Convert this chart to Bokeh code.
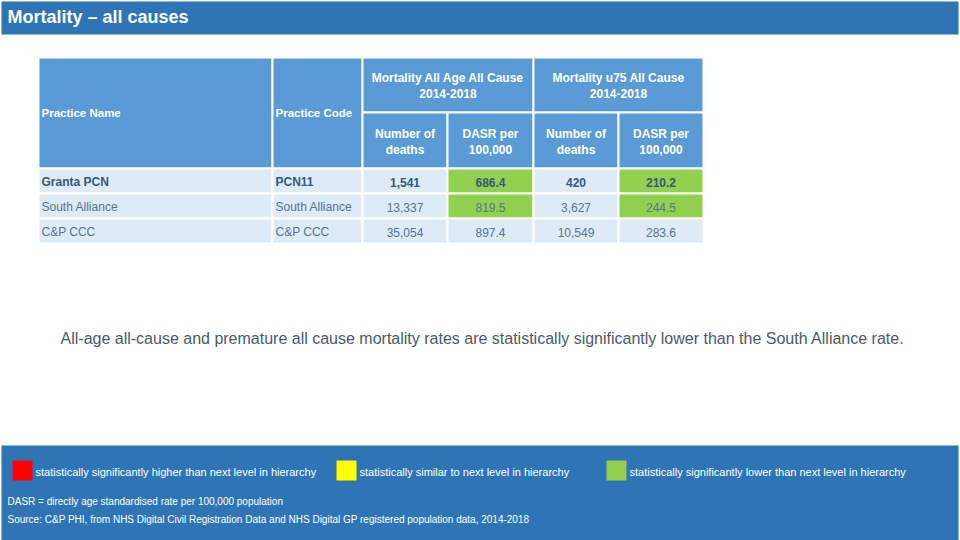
from bokeh.plotting import figure
from bokeh.models import Range1d
from bokeh.core.properties import value
from bokeh.embed import file_html
from bokeh.resources import INLINE

# ---------------- data ----------------
title = "Mortality \u2013 all causes"
practice_names = ["Granta PCN", "South Alliance", "C&P CCC"]
practice_codes = ["PCN11", "South Alliance", "C&P CCC"]
all_age_deaths = [1541, 13337, 35054]
all_age_dasr = [686.4, 819.5, 897.4]
u75_deaths = [420, 3627, 10549]
u75_dasr = [210.2, 244.5, 283.6]
all_age_sig = ["lower", "lower", None]
u75_sig = ["lower", "lower", None]
group_headers = ["Mortality All Age All Cause\n2014-2018", "Mortality u75 All Cause\n2014-2018"]
sub_headers = ["Number of\ndeaths", "DASR per\n100,000"]
summary = ("All-age all-cause and premature all cause mortality rates are statistically "
           "significantly lower than the South Alliance rate.")
legend_labels = ["statistically significantly higher than next level in hierarchy",
                 "statistically similar to next level in hierarchy",
                 "statistically significantly lower than next level in hierarchy"]
legend_keys = ["higher", "similar", "lower"]
note_lines = ["DASR = directly age standardised rate per 100,000 population",
              "Source: C&P PHI, from NHS Digital Civil Registration Data and NHS Digital GP registered population data, 2014-2018"]

# ---------------- styles / layout ----------------
FONT = value("Liberation Sans")
BAR = "#2E75B6"
HEAD = "#5B9BD5"
ROWBG = "#DDEBF7"
SIG = {"higher": "#FF0000", "similar": "#FFFF00", "lower": "#92D050"}
TXT_BOLD = "#36597C"
TXT_REG = "#56738F"

col_edges = [38, 272, 362, 447, 533, 618, 703]
row_edges = [57, 112, 168, 193, 218, 243]

p = figure(width=960, height=540, x_range=Range1d(0, 960), y_range=Range1d(540, 0),
           output_backend="svg", toolbar_location=None, min_border=0)
p.axis.visible = False
p.grid.visible = False
p.outline_line_color = None
p.background_fill_color = "white"
p.border_fill_color = "white"

# top bar and bottom panel
p.quad(left=[1, 1], right=[958, 958], top=[1, 445], bottom=[34, 540],
       fill_color=BAR, line_color=None)
p.text(x=[7], y=[16], text=[title], text_font=FONT, text_font_size="18px",
       text_font_style="bold", text_color="white", text_baseline="middle")

# ---------------- table cells ----------------
L, R, T, B, C = [], [], [], [], []
for c in range(2):
    L.append(col_edges[c]); R.append(col_edges[c + 1]); T.append(row_edges[0]); B.append(row_edges[2]); C.append(HEAD)
for g in range(2):
    L.append(col_edges[2 + 2 * g]); R.append(col_edges[4 + 2 * g]); T.append(row_edges[0]); B.append(row_edges[1]); C.append(HEAD)
for c in range(2, 6):
    L.append(col_edges[c]); R.append(col_edges[c + 1]); T.append(row_edges[1]); B.append(row_edges[2]); C.append(HEAD)
for r in range(len(practice_names)):
    sigs = [None, None, None, all_age_sig[r], None, u75_sig[r]]
    for c in range(6):
        L.append(col_edges[c]); R.append(col_edges[c + 1])
        T.append(row_edges[2 + r]); B.append(row_edges[3 + r])
        C.append(SIG[sigs[c]] if sigs[c] else ROWBG)
p.quad(left=L, right=R, top=T, bottom=B, fill_color=C, line_color="white", line_width=2)

# header texts
p.text(x=[col_edges[0] + 3, col_edges[1] + 3], y=[(row_edges[0] + row_edges[2]) / 2] * 2,
       text=["Practice Name", "Practice Code"], text_font=FONT, text_font_size="11.5px",
       text_font_style="bold", text_color="white", text_baseline="middle")
hx, hy, ht = [], [], []
for g in range(2):
    lines = group_headers[g].split("\n")
    cx = (col_edges[2 + 2 * g] + col_edges[4 + 2 * g]) / 2
    for i, ln in enumerate(lines):
        hx.append(cx); hy.append(77 + 16 * i); ht.append(ln)
for c in range(2, 6):
    lines = sub_headers[(c - 2) % 2].split("\n")
    cx = (col_edges[c] + col_edges[c + 1]) / 2
    for i, ln in enumerate(lines):
        hx.append(cx); hy.append(133 + 16 * i); ht.append(ln)
p.text(x=hx, y=hy, text=ht, text_font=FONT, text_font_size="12px", text_font_style="bold",
       text_color="white", text_align="center", text_baseline="middle")

# data texts
for r in range(len(practice_names)):
    yc = (row_edges[2 + r] + row_edges[3 + r]) / 2 + 1
    bold = r == 0
    style = "bold" if bold else "normal"
    color = TXT_BOLD if bold else TXT_REG
    p.text(x=[col_edges[0] + 3, col_edges[1] + 3], y=[yc, yc],
           text=[practice_names[r], practice_codes[r]], text_font=FONT, text_font_size="12px",
           text_font_style=style, text_color=color, text_baseline="middle")
    vals = [f"{all_age_deaths[r]:,}", f"{all_age_dasr[r]:.1f}", f"{u75_deaths[r]:,}", f"{u75_dasr[r]:.1f}"]
    xs = [(col_edges[c] + col_edges[c + 1]) / 2 for c in range(2, 6)]
    p.text(x=xs, y=[yc] * 4, text=vals, text_font=FONT, text_font_size="12px",
           text_font_style=style, text_color=color, text_align="center", text_baseline="middle")

# summary sentence
p.text(x=[482], y=[338], text=[summary], text_font=FONT, text_font_size="16px",
       text_color="#4A5A6A", text_align="center", text_baseline="middle")

# legend
key_x = [12, 336, 606]
p.quad(left=key_x, right=[k + 20 for k in key_x], top=[460] * 3, bottom=[480] * 3,
       fill_color=[SIG[k] for k in legend_keys], line_color=None)
p.text(x=[k + 23 for k in key_x], y=[471] * 3, text=legend_labels, text_font=FONT,
       text_font_size="11px", text_color="white", text_baseline="middle")

# notes
p.text(x=[7, 7], y=[501, 519], text=note_lines, text_font=FONT, text_font_size="10px",
       text_color="white", text_baseline="middle")

open("out.html", "w").write(file_html(p, INLINE))
